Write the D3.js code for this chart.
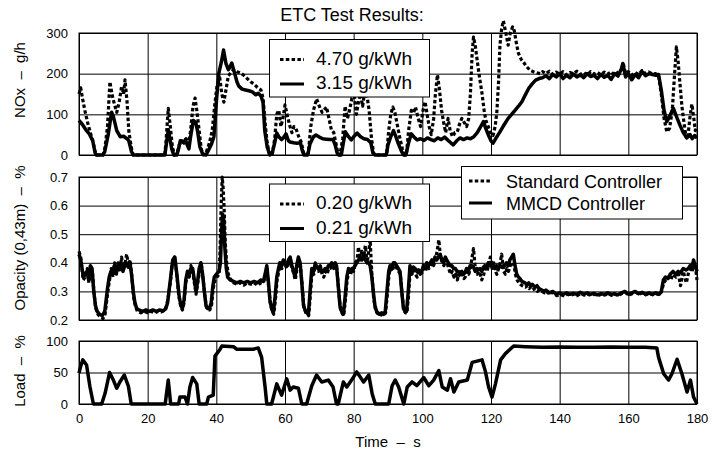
<!DOCTYPE html>
<html>
<head>
<meta charset="utf-8">
<script src="https://cdn.jsdelivr.net/npm/d3@7"></script>
<style>
  body { margin: 0; background: #fff; }
  svg { display: block; font-family: "Liberation Sans", Arial, sans-serif; }
</style>
</head>
<body>
<svg id="chart" width="717" height="454"></svg>
<script>
// ETC test results, [time s, value]
const timeTicks = [0, 20, 40, 60, 80, 100, 120, 140, 160, 180];
const noxTicks = [0, 100, 200, 300];
const opacityTicks = [0.2, 0.3, 0.4, 0.5, 0.6, 0.7];
const loadTicks = [0, 50, 100];

const seriesNames = ["Standard Controller", "MMCD Controller"];
const noxResults = ["4.70 g/kWh", "3.15 g/kWh"];
const opacityResults = ["0.20 g/kWh", "0.21 g/kWh"];

const noxStandard = [[0,150],[0.5,165],[1,140],[1.7,110],[2.5,80],[3.3,55],[4,35],[4.7,8],[5.2,0],[7,0],[7.6,20],[8.3,70],[9,180],[9.6,150],[10.3,125],[11,105],[11.7,130],[12.4,168],[13,150],[13.4,185],[14,130],[14.5,60],[15.2,20],[15.8,0],[25,0],[25.4,40],[26,115],[26.6,70],[27.2,20],[27.8,0],[28.6,5],[29.2,25],[30,35],[30.6,30],[31.2,40],[31.8,20],[32.5,60],[33.2,120],[33.8,140],[34.3,110],[35,60],[35.6,15],[36.2,0],[37,5],[38,30],[38.8,60],[39.5,120],[40.2,170],[41,190],[41.6,150],[42.2,130],[42.8,160],[43.5,195],[44.2,202],[45,210],[46,205],[47,202],[48,196],[49,188],[50,180],[51,174],[52,166],[53,160],[53.6,140],[54.2,80],[54.8,30],[55.5,0],[56.3,2],[57,40],[57.6,100],[58.2,110],[58.8,70],[59.4,90],[60,123],[60.6,100],[61.3,75],[62,55],[62.6,70],[63.2,65],[64,45],[64.8,30],[65.4,5],[66,0],[66.8,5],[67.5,70],[68.3,110],[69.2,138],[70,120],[70.8,105],[71.5,112],[72.1,118],[72.8,90],[73.5,62],[74.2,55],[74.8,30],[75.4,5],[76,0],[76.8,40],[77.5,120],[78.2,90],[78.8,110],[79.5,140],[80.2,145],[80.8,100],[81.4,130],[82,150],[82.6,120],[83.2,155],[83.8,150],[84.5,110],[85.2,40],[85.8,5],[86.3,0],[89.6,0],[90.2,60],[90.8,100],[91.4,118],[92,105],[92.8,70],[93.5,40],[94.2,15],[94.8,0],[95.4,5],[96,60],[96.8,110],[97.5,105],[98,118],[98.8,90],[99.5,70],[100.2,110],[100.8,131],[101.4,100],[102,70],[102.6,50],[103.3,90],[103.8,150],[104.4,197],[105,160],[105.6,110],[106.2,80],[106.8,55],[107.5,90],[108.1,60],[108.8,45],[109.5,55],[110.2,57],[110.8,75],[111.5,90],[112.2,80],[112.9,70],[113.5,90],[114,150],[114.5,250],[114.9,290],[115.4,270],[115.9,238],[116.5,200],[117.3,156],[118,110],[118.5,85],[119.2,70],[120,50],[120.6,48],[121.2,70],[121.7,105],[122.2,180],[122.6,270],[123.1,310],[123.6,330],[124.2,305],[125,270],[125.6,300],[126.3,315],[126.8,305],[127.5,270],[128,250],[128.8,235],[129.4,229],[130.3,218],[131.3,209],[132.3,205],[133.3,202],[134.3,200],[135,205],[136,200],[137,206],[138,198],[139,204],[140,199],[141,205],[142,197],[143,203],[144,200],[145,206],[146,198],[147,203],[148,196],[149,205],[150,199],[151,203],[152,197],[153,204],[154,199],[155,205],[156,196],[157,204],[158,210],[158.6,222],[159.2,200],[160,205],[161,196],[162,203],[163,198],[164,208],[165,200],[166,204],[167,199],[168,200],[168.8,195],[169.6,150],[170.4,90],[171.2,57],[172,65],[172.8,110],[173.4,190],[174,266],[174.5,230],[175,180],[175.6,120],[176.2,80],[176.8,45],[177.3,40],[177.9,90],[178.5,125],[179,95],[179.5,60],[180,70]];

const noxMmcd = [[0,85],[1,75],[2,62],[3,52],[4,35],[4.7,5],[5,0],[7,0],[7.5,8],[8.5,50],[9.5,105],[10,95],[11,60],[12,45],[13,46],[14,40],[14.5,35],[15.3,8],[15.8,0],[25,0],[25.5,30],[26,62],[26.5,40],[27,15],[27.6,0],[28.5,0],[29,15],[29.5,35],[30.5,30],[31,38],[31.5,25],[32,15],[32.5,45],[33.3,85],[34,80],[34.5,60],[35.2,20],[36,3],[37,0],[37.5,8],[38.5,25],[39.3,45],[40,130],[40.7,200],[41.5,230],[42.1,258],[42.8,225],[43.5,210],[44,217],[44.5,226],[45.2,205],[46,180],[46.5,170],[47.5,162],[48.5,160],[49.5,158],[50.5,155],[51.5,148],[52.2,152],[53,145],[53.6,130],[54.1,60],[54.8,20],[55.6,0],[56.3,5],[57,30],[57.6,54],[58.2,45],[59,38],[59.5,42],[60.3,52],[61,35],[61.5,32],[62.5,30],[63.5,29],[64.5,30],[65,12],[65.5,0],[66.6,0],[67.3,28],[68.3,45],[69,49],[70,44],[71,40],[72,39],[73,38],[74,38],[74.6,25],[75.2,5],[75.6,0],[76.4,0],[77,30],[77.6,57],[78.5,45],[79.3,37],[80,45],[81,54],[82,45],[83,40],[84,38],[85,30],[85.6,5],[86.2,0],[89.5,0],[90,25],[90.8,45],[91.6,60],[92.3,45],[93,28],[94,8],[94.6,0],[95.2,0],[96,30],[96.8,52],[97.5,45],[98.5,37],[99.5,40],[100.5,36],[101.5,42],[102.5,38],[103.5,35],[104.5,42],[105.5,38],[106.5,44],[107.5,36],[108.3,30],[109,25],[110,35],[111,42],[112,38],[113,42],[114,40],[115,45],[116,55],[117,70],[117.8,82],[118.5,65],[119.2,50],[120,35],[120.6,29],[121.5,42],[122.6,57],[123.5,70],[125,90],[126,100],[127,110],[128,120],[129,131],[130,148],[131,164],[132,175],[133,184],[134,188],[135,190],[136,195],[137,188],[138,198],[139,192],[140,200],[141,188],[142,196],[143,190],[144,199],[145,192],[146,197],[147,190],[148,200],[149,193],[150,196],[151,188],[152,198],[153,191],[154,196],[155,186],[156,200],[157,194],[158,212],[158.4,225],[159.2,192],[160,200],[161,185],[162,198],[163,190],[164,205],[165,195],[166,200],[167,198],[168,196],[168.8,198],[169.6,160],[170.4,110],[171.2,82],[172,95],[173.1,115],[174,95],[175,74],[176,55],[177,42],[178,50],[178.6,40],[179.3,48],[180,42]];

const opacityStandard = [[0,0.44],[0.5,0.42],[1.2,0.34],[1.8,0.35],[2.4,0.38],[2.9,0.33],[3.4,0.38],[3.9,0.37],[4.4,0.29],[4.9,0.24],[5.5,0.22],[6.2,0.21],[7,0.205],[7.6,0.22],[8.4,0.30],[8.9,0.34],[9.4,0.38],[9.9,0.35],[10.4,0.40],[10.9,0.36],[11.4,0.40],[11.9,0.37],[12.4,0.42],[12.9,0.38],[13.4,0.40],[13.9,0.43],[14.4,0.39],[14.9,0.41],[15.4,0.35],[15.9,0.28],[16.4,0.25],[17,0.23],[18,0.225],[19,0.23],[20,0.225],[21,0.23],[22,0.225],[23,0.23],[24,0.228],[25,0.235],[25.5,0.25],[26,0.28],[26.6,0.33],[27.2,0.40],[27.8,0.42],[28.4,0.37],[29,0.29],[29.6,0.25],[30.1,0.235],[30.6,0.26],[31.1,0.33],[31.6,0.36],[32.1,0.35],[32.6,0.39],[33.1,0.37],[33.6,0.33],[34.1,0.29],[34.6,0.33],[35.1,0.37],[35.6,0.40],[36.1,0.35],[36.6,0.29],[37.1,0.245],[37.6,0.235],[38.1,0.235],[38.6,0.25],[39.1,0.31],[39.6,0.34],[40.2,0.35],[40.8,0.36],[41.1,0.45],[41.4,0.60],[41.7,0.70],[42,0.66],[42.3,0.58],[42.6,0.47],[43,0.40],[43.5,0.36],[44,0.345],[45,0.33],[46,0.325],[47,0.33],[48,0.322],[49,0.33],[50,0.325],[51,0.33],[52,0.322],[53,0.33],[53.7,0.33],[54.2,0.35],[54.7,0.38],[55.2,0.32],[55.7,0.26],[56.2,0.235],[56.7,0.22],[57.2,0.27],[57.7,0.34],[58.2,0.37],[58.6,0.39],[59.1,0.38],[59.6,0.40],[60.1,0.39],[60.6,0.38],[61.1,0.40],[61.6,0.41],[62.1,0.38],[62.6,0.36],[63,0.34],[63.5,0.38],[64,0.41],[64.5,0.39],[65,0.32],[65.5,0.245],[66.1,0.225],[66.9,0.215],[67.4,0.29],[67.9,0.37],[68.4,0.36],[68.8,0.40],[69.3,0.38],[69.8,0.37],[70.3,0.39],[70.8,0.36],[71.3,0.35],[71.8,0.37],[72.3,0.36],[72.7,0.38],[73.2,0.38],[73.7,0.39],[74.2,0.38],[74.7,0.39],[75.1,0.38],[75.6,0.31],[76.1,0.24],[76.6,0.225],[77.1,0.215],[77.6,0.27],[78.1,0.34],[78.6,0.37],[79.1,0.36],[79.6,0.38],[80,0.37],[80.5,0.40],[81,0.41],[81.4,0.455],[81.9,0.41],[82.4,0.44],[82.9,0.42],[83.4,0.46],[83.9,0.40],[84.4,0.44],[84.8,0.48],[85.3,0.36],[85.8,0.28],[86.3,0.24],[86.8,0.225],[87.6,0.215],[88.3,0.22],[88.8,0.215],[89.3,0.225],[89.8,0.29],[90.3,0.36],[90.7,0.38],[91.2,0.37],[91.7,0.39],[92.1,0.39],[92.6,0.38],[93.1,0.37],[93.6,0.36],[94.1,0.29],[94.6,0.235],[95.1,0.225],[95.5,0.225],[96,0.29],[96.5,0.38],[97,0.36],[97.5,0.375],[98,0.36],[98.5,0.35],[99,0.37],[99.4,0.36],[99.9,0.365],[100.4,0.38],[100.9,0.37],[101.4,0.39],[101.9,0.38],[102.4,0.39],[102.9,0.40],[103.3,0.39],[103.8,0.41],[104.3,0.44],[104.8,0.48],[105.3,0.42],[105.8,0.40],[106.3,0.39],[106.8,0.41],[107.2,0.40],[107.7,0.38],[108.2,0.36],[108.7,0.37],[109.2,0.35],[109.7,0.36],[110.2,0.34],[110.6,0.36],[111.1,0.35],[111.6,0.36],[112.1,0.345],[112.5,0.35],[113,0.37],[113.5,0.36],[114,0.38],[114.5,0.42],[114.9,0.45],[115.5,0.37],[116,0.36],[116.4,0.37],[116.9,0.36],[117.3,0.34],[117.9,0.36],[118.3,0.38],[118.8,0.37],[119.3,0.39],[119.8,0.42],[120.3,0.38],[120.8,0.40],[121.3,0.37],[121.7,0.36],[122.2,0.38],[122.7,0.40],[123.1,0.43],[123.7,0.37],[124.2,0.36],[124.6,0.38],[125.1,0.37],[125.6,0.39],[126.1,0.40],[126.6,0.40],[127.1,0.36],[127.6,0.34],[128.1,0.33],[128.5,0.325],[129.1,0.32],[130,0.315],[130.6,0.32],[131.1,0.31],[131.6,0.315],[132.1,0.305],[132.9,0.31],[133.5,0.30],[134.1,0.305],[134.9,0.30],[135.6,0.295],[136.1,0.30],[137.1,0.29],[138.1,0.297],[139.1,0.285],[140.1,0.29],[141.1,0.285],[142.1,0.29],[143.1,0.287],[144.1,0.29],[145.1,0.285],[146.1,0.293],[147.1,0.287],[148.1,0.29],[149.1,0.286],[150.1,0.29],[151.1,0.285],[152.1,0.29],[153.1,0.287],[154.1,0.292],[155.1,0.286],[156.1,0.29],[157.1,0.285],[158.1,0.293],[159.1,0.297],[160.1,0.287],[161.1,0.292],[162.1,0.298],[163.1,0.29],[164.1,0.295],[165.1,0.288],[166.1,0.293],[167.1,0.288],[168.1,0.292],[169.1,0.288],[169.7,0.30],[170.3,0.33],[170.9,0.34],[171.6,0.35],[172.3,0.34],[173.1,0.36],[173.9,0.35],[174.6,0.36],[175.2,0.32],[176,0.37],[176.9,0.33],[177.6,0.37],[178.1,0.38],[178.6,0.37],[179.1,0.40],[179.6,0.38],[180,0.34]];

const opacityMmcd = [[0,0.43],[0.5,0.41],[1.3,0.35],[1.8,0.36],[2.3,0.37],[2.8,0.34],[3.3,0.39],[3.8,0.38],[4.3,0.30],[4.8,0.25],[5.3,0.23],[6,0.22],[6.8,0.215],[7.5,0.23],[8.3,0.31],[8.8,0.35],[9.3,0.37],[9.8,0.36],[10.3,0.39],[10.8,0.37],[11.3,0.39],[11.8,0.38],[12.3,0.395],[12.8,0.37],[13.3,0.39],[13.8,0.40],[14.3,0.385],[14.8,0.40],[15.3,0.36],[15.8,0.30],[16.3,0.26],[16.8,0.24],[17.5,0.235],[18.5,0.23],[19.5,0.235],[20.5,0.23],[21.5,0.235],[22.5,0.23],[23.5,0.235],[24.5,0.232],[25.3,0.24],[25.8,0.26],[26.2,0.30],[26.7,0.35],[27.3,0.41],[27.9,0.42],[28.5,0.36],[29.2,0.28],[29.7,0.25],[30.1,0.24],[30.6,0.27],[31.1,0.34],[31.6,0.37],[32.1,0.36],[32.6,0.38],[33.1,0.38],[33.6,0.34],[34.1,0.30],[34.6,0.34],[35,0.38],[35.5,0.40],[36,0.36],[36.5,0.30],[37,0.25],[37.5,0.24],[38,0.24],[38.5,0.26],[39,0.32],[39.4,0.35],[40,0.36],[40.8,0.37],[41.2,0.40],[41.5,0.50],[41.8,0.57],[42.1,0.56],[42.5,0.45],[42.9,0.38],[43.3,0.35],[44,0.34],[45,0.335],[46,0.33],[47,0.335],[48,0.33],[49,0.335],[50,0.33],[51,0.335],[52,0.33],[53,0.34],[53.7,0.335],[54.2,0.36],[54.7,0.39],[55.2,0.33],[55.6,0.27],[56.1,0.24],[56.6,0.225],[57.1,0.28],[57.6,0.35],[58.1,0.38],[58.5,0.40],[59,0.39],[59.5,0.41],[60,0.40],[60.5,0.39],[61,0.41],[61.5,0.42],[62,0.39],[62.5,0.37],[62.9,0.35],[63.4,0.39],[63.9,0.42],[64.4,0.40],[64.9,0.33],[65.4,0.25],[66,0.23],[66.8,0.22],[67.3,0.30],[67.8,0.38],[68.3,0.37],[68.7,0.39],[69.2,0.39],[69.7,0.38],[70.2,0.385],[70.7,0.37],[71.2,0.37],[71.7,0.38],[72.2,0.375],[72.6,0.39],[73.1,0.39],[73.6,0.40],[74.1,0.39],[74.6,0.40],[75,0.39],[75.5,0.32],[76,0.25],[76.5,0.23],[77,0.22],[77.5,0.28],[78,0.35],[78.5,0.38],[79,0.37],[79.5,0.38],[79.9,0.38],[80.4,0.39],[80.9,0.40],[81.4,0.41],[81.9,0.42],[82.4,0.41],[82.9,0.43],[83.4,0.41],[83.9,0.40],[84.4,0.40],[84.8,0.39],[85.3,0.35],[85.8,0.29],[86.2,0.25],[86.7,0.23],[87.5,0.22],[88.2,0.225],[88.7,0.22],[89.2,0.23],[89.7,0.30],[90.2,0.37],[90.6,0.39],[91.1,0.38],[91.6,0.40],[92,0.40],[92.5,0.39],[93,0.38],[93.5,0.37],[94,0.30],[94.5,0.24],[95,0.23],[95.4,0.23],[95.9,0.30],[96.4,0.39],[96.9,0.37],[97.4,0.385],[97.9,0.38],[98.4,0.37],[98.9,0.375],[99.3,0.37],[99.8,0.37],[100.3,0.39],[100.8,0.38],[101.3,0.40],[101.8,0.39],[102.3,0.40],[102.8,0.41],[103.2,0.40],[103.7,0.42],[104.2,0.41],[104.7,0.42],[105.2,0.43],[105.7,0.41],[106.2,0.40],[106.7,0.42],[107.1,0.41],[107.6,0.40],[108.1,0.39],[108.6,0.39],[109.1,0.38],[109.6,0.38],[110.1,0.37],[110.5,0.37],[111,0.365],[111.5,0.37],[112,0.36],[112.4,0.365],[112.9,0.38],[113.4,0.37],[113.9,0.39],[114.4,0.39],[114.9,0.385],[115.4,0.37],[115.9,0.38],[116.3,0.375],[116.8,0.38],[117.3,0.37],[117.8,0.385],[118.2,0.39],[118.7,0.38],[119.2,0.40],[119.7,0.39],[120.2,0.40],[120.7,0.39],[121.2,0.38],[121.6,0.39],[122.1,0.38],[122.6,0.39],[123.1,0.385],[123.6,0.39],[124.1,0.39],[124.5,0.40],[125,0.39],[125.5,0.41],[126,0.42],[126.5,0.43],[127,0.39],[127.5,0.36],[128,0.35],[128.4,0.345],[129,0.335],[129.9,0.33],[130.5,0.325],[131,0.33],[131.5,0.32],[132,0.325],[132.8,0.315],[133.4,0.32],[134,0.31],[134.8,0.305],[135.5,0.30],[136,0.305],[137,0.295],[138,0.30],[139,0.29],[140,0.295],[141,0.29],[142,0.295],[143,0.29],[144,0.293],[145,0.29],[146,0.297],[147,0.29],[148,0.295],[149,0.29],[150,0.293],[151,0.288],[152,0.292],[153,0.29],[154,0.295],[155,0.29],[156,0.292],[157,0.288],[158,0.295],[159,0.30],[160,0.29],[161,0.295],[162,0.30],[163,0.292],[164,0.297],[165,0.29],[166,0.295],[167,0.29],[168,0.295],[169,0.29],[169.6,0.30],[170.2,0.34],[170.8,0.35],[171.5,0.345],[172.2,0.36],[173,0.37],[173.8,0.36],[174.5,0.37],[175.2,0.365],[176,0.38],[176.8,0.375],[177.5,0.38],[178,0.39],[178.5,0.38],[179,0.41],[179.5,0.39],[180,0.37]];

const load = [[0,49],[0.5,60],[1.1,70],[2.2,62],[3.2,27],[4.2,0],[6.6,0],[7.6,17],[8.9,50],[10,38],[11,25],[11.9,35],[13.2,46],[14.4,28],[15.2,0],[25.1,0],[26,38],[26.7,0],[29,0],[29.4,11],[30.9,11],[31.6,0],[32.3,27],[33.1,42],[34.3,32],[35,0],[37.2,0],[37.7,11],[39.1,14],[39.6,76],[41.1,87],[41.6,92],[45,91],[45.9,87],[50.8,87],[52.2,89],[53.2,74],[54.2,27],[54.7,0],[56.1,0],[57.6,32],[59,14],[60.5,40],[61.5,22],[62.4,27],[63.9,25],[64.9,0],[66.3,0],[67.8,29],[69.2,46],[70.7,35],[72.6,38],[74,27],[75,0],[75.5,0],[77,35],[78,27],[79.4,38],[80.9,51],[82.9,35],[84.4,46],[85.4,16],[86.3,0],[90.2,0],[91.2,29],[92.1,38],[93.1,27],[94.6,0],[95.6,27],[97,35],[98.4,29],[100.4,42],[101.9,29],[103.3,38],[104.8,53],[105.8,27],[107.3,22],[108.2,40],[109.2,19],[110.6,35],[113.1,38],[114.5,66],[117.4,70],[118.4,51],[119.3,27],[120.3,11],[121.3,32],[122.8,70],[124.2,80],[126.6,92],[130,91],[135,90],[140,90.5],[145,90],[150,90],[155,90.5],[160,90],[165,90],[168.3,89],[168.8,74],[170.3,48],[171.7,38],[172.7,48],[174.2,71],[175.6,48],[177.1,19],[178.1,38],[179,11],[180,0]];

const svg = d3.select("#chart");
const left = 79, right = 697;
const font = "Liberation Sans, Arial, sans-serif";

const x = d3.scaleLinear().domain([0, 180]).range([left, right]);

const panels = [
  { top: 33, bottom: 155, domain: [0, 300], ticks: noxTicks, fmt: d3.format("d"),
    label: "NOx  \u2013  g/h", labelY: 80, series: [noxStandard, noxMmcd] },
  { top: 177, bottom: 320, domain: [0.2, 0.7], ticks: opacityTicks, fmt: d3.format(".1f"),
    label: "Opacity (0,43m)  \u2013  %", labelY: 238, series: [opacityStandard, opacityMmcd] },
  { top: 341, bottom: 404, domain: [0, 100], ticks: loadTicks, fmt: d3.format("d"),
    label: "Load  \u2013  %", labelY: 371, series: [load] }
];

panels.forEach((p) => {
  const y = d3.scaleLinear().domain(p.domain).range([p.bottom, p.top]);
  const g = svg.append("g");

  // grid
  g.append("g")
    .attr("transform", `translate(0,${p.bottom})`)
    .call(d3.axisBottom(x).tickValues(timeTicks).tickSize(-(p.bottom - p.top)).tickFormat(""))
    .call(a => a.select(".domain").remove())
    .selectAll("line").attr("stroke", "#000").attr("stroke-width", 1);
  g.append("g")
    .attr("transform", `translate(${left},0)`)
    .call(d3.axisLeft(y).tickValues(p.ticks).tickSize(-(right - left)).tickFormat(""))
    .call(a => a.select(".domain").remove())
    .selectAll("line").attr("stroke", "#000").attr("stroke-width", 1);

  g.append("rect")
    .attr("x", left).attr("y", p.top)
    .attr("width", right - left).attr("height", p.bottom - p.top)
    .attr("fill", "none").attr("stroke", "#000").attr("stroke-width", 1);

  // y tick labels
  g.append("g")
    .attr("transform", `translate(${left},0)`)
    .call(d3.axisLeft(y).tickValues(p.ticks).tickSize(0).tickPadding(11).tickFormat(p.fmt))
    .call(a => a.select(".domain").remove())
    .selectAll("text")
    .attr("font-family", font).attr("font-size", 13).attr("fill", "#000");

  // y label
  g.append("text")
    .attr("transform", `translate(25,${p.labelY}) rotate(-90)`)
    .attr("text-anchor", "middle")
    .attr("font-family", font).attr("font-size", 15)
    .style("white-space", "pre")
    .text(p.label);

  const line = d3.line().x(d => x(d[0])).y(d => y(d[1]));

  p.series.forEach((s, k) => {
    const dotted = p.series.length > 1 && k === 0;
    g.append("path")
      .datum(s)
      .attr("d", line)
      .attr("fill", "none")
      .attr("stroke", "#000")
      .attr("stroke-width", dotted ? 3.2 : 3.5)
      .attr("stroke-linejoin", "round")
      .attr("stroke-dasharray", dotted ? "3.5,2.3" : null);
  });
});

// x axis tick labels under the load panel
svg.append("g")
  .attr("transform", `translate(0,${panels[2].bottom})`)
  .call(d3.axisBottom(x).tickValues(timeTicks).tickSize(0).tickPadding(10))
  .call(a => a.select(".domain").remove())
  .selectAll("text")
  .attr("font-family", font).attr("font-size", 13).attr("fill", "#000");

svg.append("text")
  .attr("x", (left + right) / 2).attr("y", 447)
  .attr("text-anchor", "middle")
  .attr("font-family", font).attr("font-size", 15)
  .style("white-space", "pre")
  .text("Time  \u2013  s");

svg.append("text")
  .attr("x", 352).attr("y", 21)
  .attr("text-anchor", "middle")
  .attr("font-family", font).attr("font-size", 18)
  .text("ETC Test Results:");

// result legends (g/kWh)
function resultBox(top, texts) {
  const g = svg.append("g");
  g.append("rect")
    .attr("x", 269.5).attr("y", top)
    .attr("width", 160).attr("height", 57.5)
    .attr("fill", "#fff").attr("stroke", "#000").attr("stroke-width", 1);
  texts.forEach((t, k) => {
    const base = top + 25 + k * 24.5;
    g.append("line")
      .attr("x1", 280).attr("x2", 304).attr("y1", base - 5).attr("y2", base - 5)
      .attr("stroke", "#000").attr("stroke-width", 3)
      .attr("stroke-dasharray", k === 0 ? "3.5,2.3" : null);
    g.append("text")
      .attr("x", 316).attr("y", base)
      .attr("font-family", font).attr("font-size", 19)
      .text(t);
  });
}
resultBox(39.5, noxResults);
resultBox(184, opacityResults);

// controller legend
const lg = svg.append("g");
lg.append("rect")
  .attr("x", 461.5).attr("y", 166.5)
  .attr("width", 221).attr("height", 52.5)
  .attr("fill", "#fff").attr("stroke", "#000").attr("stroke-width", 1);
seriesNames.forEach((n, k) => {
  const cy = 181 + k * 22;
  lg.append("line")
    .attr("x1", 469).attr("x2", 492).attr("y1", cy).attr("y2", cy)
    .attr("stroke", "#000").attr("stroke-width", 3)
    .attr("stroke-dasharray", k === 0 ? "3.5,2.3" : null);
  lg.append("text")
    .attr("x", 506).attr("y", cy + 6.5)
    .attr("font-family", font).attr("font-size", 18)
    .text(n);
});
</script>
</body>
</html>
